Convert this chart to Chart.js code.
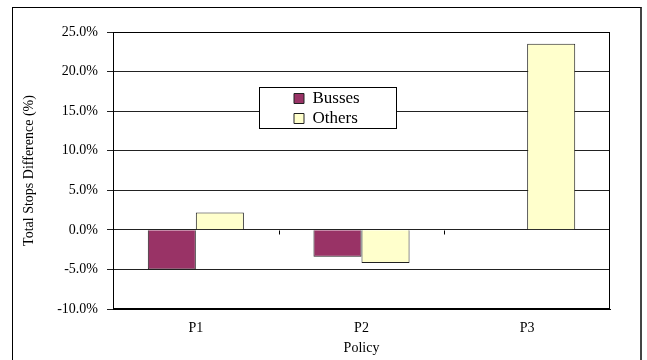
<!DOCTYPE html>
<html>
<head>
<meta charset="utf-8">
<script src="https://cdn.jsdelivr.net/npm/chart.js@4.4.1/dist/chart.umd.min.js"></script>
<style>
  html, body { margin: 0; padding: 0; background: #fff; overflow: hidden; }
  #wrap { position: relative; width: 647px; height: 360px; overflow: hidden; }
  #frame { position: absolute; left: 12px; top: 7px; width: 630px; height: 420px;
           box-sizing: border-box; border: 1px solid #000; border-right: 2px solid #444; }
  #chart { position: absolute; left: 0; top: 0; }
</style>
</head>
<body>
<div id="wrap">
  <div id="frame"></div>
  <canvas id="chart" width="647" height="360"></canvas>
</div>
<script>
// Policies on the category axis
const policies = ['P1', 'P2', 'P3'];
// Change in total stops per policy, in percent
const busses = [-5.0, -3.4, 0.0];
const others = [2.2, -4.2, 23.5];
// Value axis range and tick spacing (percent)
const yMin = -10;
const yMax = 25;
const yStep = 5;

const serif = 'Liberation Serif, Times New Roman, serif';
Chart.defaults.font.family = serif;
Chart.defaults.color = '#000';

// Framed legend box, small ticks on the zero line, and the plot border
const chartDecor = {
  id: 'chartDecor',
  afterInit(chart) {
    const lg = chart.legend;
    if (!lg) return;
    const baseDraw = lg.draw;
    lg.draw = function (area) {
      const ctx = this.ctx;
      ctx.save();
      ctx.fillStyle = '#fff';
      ctx.fillRect(259.5, 87.5, 137, 41);
      ctx.strokeStyle = '#000';
      ctx.lineWidth = 1;
      ctx.strokeRect(259.5, 87.5, 137, 41);
      ctx.restore();
      baseDraw.call(this, area);
    };
  },
  afterUpdate(chart) {
    const lg = chart.legend;
    if (!lg) return;
    lg.left = 291;
    lg.top = 87;
    lg.right = lg.left + lg.width;
    lg.bottom = lg.top + 120;
  },
  afterDatasetsDraw(chart) {
    const {ctx, chartArea: a, scales: {x, y}} = chart;
    ctx.save();
    ctx.strokeStyle = '#000';
    ctx.lineWidth = 1;
    const l = Math.round(a.left) + 0.5, t = Math.round(a.top) + 0.5;
    const r = Math.round(a.right) - 0.5, b = Math.round(a.bottom) - 0.5;
    ctx.strokeRect(l, t, r - l, b - t);
    // category separators on the zero line
    const y0 = Math.round(y.getPixelForValue(0)) + 0.5;
    ctx.beginPath();
    for (let i = 0; i < policies.length - 1; i++) {
      const xb = Math.round((x.getPixelForTick(i) + x.getPixelForTick(i + 1)) / 2) + 0.5;
      ctx.moveTo(xb, y0);
      ctx.lineTo(xb, y0 + 4);
    }
    ctx.stroke();
    ctx.restore();
  }
};

new Chart(document.getElementById('chart'), {
  type: 'bar',
  data: {
    labels: policies,
    datasets: [
      { label: 'Busses', data: busses, backgroundColor: '#993366', borderColor: '#222', borderWidth: 1 },
      { label: 'Others', data: others, backgroundColor: '#FFFFCC', borderColor: '#222', borderWidth: 1 }
    ]
  },
  options: {
    responsive: false,
    animation: false,
    devicePixelRatio: 1,
    layout: { padding: { left: 0, right: 37, top: 32, bottom: 0 } },
    datasets: { bar: { categoryPercentage: 0.58, barPercentage: 1.0 } },
    plugins: {
      legend: {
        position: 'chartArea',
        align: 'start',
        labels: { font: { family: serif, size: 17 }, color: '#000', boxWidth: 10, boxHeight: 10, padding: 3 }
      },
      tooltip: { enabled: false }
    },
    scales: {
      x: {
        grid: { display: false, drawTicks: false },
        border: { display: true, color: '#000' },
        ticks: { font: { family: serif, size: 14 }, color: '#000', padding: 11 },
        title: { display: true, text: 'Policy', font: { family: serif, size: 14 }, color: '#000', padding: { top: 0, bottom: 3 } },
        afterFit(s) { s.height = 51; }
      },
      y: {
        min: yMin,
        max: yMax,
        ticks: { stepSize: yStep, font: { family: serif, size: 14 }, color: '#000', padding: 9,
                 callback: v => v.toFixed(1) + '%' },
        grid: { color: '#222', tickLength: 6 },
        border: { display: true, color: '#000' },
        title: { display: true, text: 'Total Stops Difference (%)', font: { family: serif, size: 14 }, color: '#000',
                 padding: { top: 21, bottom: 0 } },
        afterFit(s) { s.width = 113; }
      }
    }
  },
  plugins: [chartDecor]
});
</script>
</body>
</html>
